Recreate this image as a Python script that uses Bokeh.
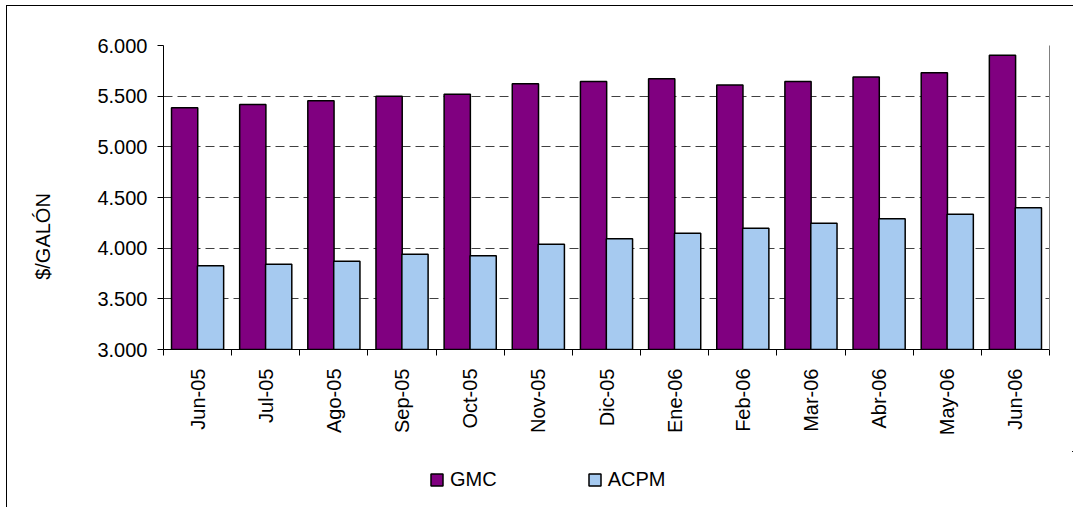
import math
from bokeh.plotting import figure
from bokeh.layouts import column, row
from bokeh.models import (Range1d, LinearAxis, FixedTicker, Label,
                          Legend, LegendItem, ColumnDataSource)
from bokeh.transform import dodge
from bokeh.core.properties import value
from bokeh.embed import file_html
from bokeh.resources import INLINE

months = ["Jun-05", "Jul-05", "Ago-05", "Sep-05", "Oct-05", "Nov-05", "Dic-05",
          "Ene-06", "Feb-06", "Mar-06", "Abr-06", "May-06", "Jun-06"]
gmc = [5385, 5418, 5455, 5500, 5520, 5622, 5645, 5671, 5609, 5645, 5688, 5730, 5905]
acpm = [3826, 3842, 3872, 3941, 3925, 4039, 4092, 4148, 4197, 4247, 4290, 4335, 4398]
y_ticks = [3000, 3500, 4000, 4500, 5000, 5500, 6000]
y_tick_labels = ["3.000", "3.500", "4.000", "4.500", "5.000", "5.500", "6.000"]
y_title = "$/GALÓN"
series_names = ["GMC", "ACPM"]
colors = ["#800080", "#A6CAF0"]

FONT = "Liberation Sans"
FS = "20px"

n = len(months)
centers = [i + 0.5 for i in range(n)]
src = ColumnDataSource(dict(x=centers, month=months, gmc=gmc, acpm=acpm))

TW = 60          # width of the title strip
MW = 1006        # main figure width
MH = 445         # main figure height


def hide_grids(fig):
    for g in fig.grid:
        g.visible = False


# ---- main chart ----
p = figure(width=MW, height=MH,
           x_range=Range1d(0, n),
           y_range=Range1d(y_ticks[0], y_ticks[-1]),
           output_backend="svg", toolbar_location=None,
           x_axis_location=None, y_axis_location="left",
           min_border_left=96, min_border_right=24,
           min_border_top=39, min_border_bottom=102,
           background_fill_color="white", border_fill_color="white")
p.outline_line_color = None

yt = FixedTicker(ticks=y_ticks)
ya = p.yaxis[0]
ya.ticker = yt
ya.major_label_overrides = dict(zip(y_ticks, y_tick_labels))
ya.major_tick_out = 6
ya.major_tick_in = 0
ya.minor_tick_out = 0
ya.minor_tick_in = 0
ya.major_label_standoff = 10
ya.major_label_text_font = FONT
ya.major_label_text_font_size = FS
ya.major_label_text_color = "black"
ya.axis_line_color = "black"
ya.major_tick_line_color = "black"

p.xgrid.visible = False
p.ygrid.ticker = yt
p.ygrid.grid_line_color = "#404040"
p.ygrid.grid_line_dash = "9 5"
p.ygrid.grid_line_width = 1

bounds = list(range(n + 1))
ta = LinearAxis(ticker=FixedTicker(ticks=bounds),
                major_label_overrides={b: "" for b in bounds},
                major_tick_out=6, major_tick_in=0, minor_tick_out=0, minor_tick_in=0,
                major_label_text_font_size="0px", major_label_standoff=0,
                axis_line_color="black", major_tick_line_color="black")
p.add_layout(ta, "below")
ca = LinearAxis(ticker=FixedTicker(ticks=centers),
                major_label_overrides=dict(zip(centers, months)),
                major_label_orientation=math.pi / 2, axis_line_color=None,
                major_tick_line_color=None, minor_tick_line_color=None,
                major_tick_out=0, major_tick_in=0,
                major_label_standoff=13, major_label_text_font=FONT,
                major_label_text_font_size=FS, major_label_text_color="black")
p.add_layout(ca, "below")

ra = LinearAxis(ticker=FixedTicker(ticks=[]), axis_line_color="#808080",
                major_tick_line_color=None, minor_tick_line_color=None,
                major_label_text_font_size="0px")
p.add_layout(ra, "right")

p.vbar(x=dodge("x", -0.19), top="gmc", bottom=y_ticks[0],
       width=0.385, source=src, fill_color=colors[0], line_color="black", line_width=1.5)
p.vbar(x=dodge("x", 0.19), top="acpm", bottom=y_ticks[0],
       width=0.385, source=src, fill_color=colors[1], line_color="black", line_width=1.5)

# ---- y title strip (its frame is aligned with the main frame) ----
tf = figure(width=TW, height=MH, x_range=Range1d(0, 1), y_range=Range1d(0, 1),
            output_backend="svg", toolbar_location=None,
            x_axis_location=None, y_axis_location=None,
            min_border=0, min_border_left=0, min_border_right=0,
            min_border_top=0, min_border_bottom=0,
            background_fill_color="white", border_fill_color="white")
tf.outline_line_color = None
hide_grids(tf)
tf.add_layout(Label(x=35.5, y=113, x_units="screen", y_units="screen", text=y_title,
                    angle=math.pi / 2, text_align="center", text_baseline="middle",
                    text_font=FONT, text_font_size=FS, text_color="black"))

# ---- legend strip ----
# its ranges lie away from the data, so only the legend swatches of these renderers show
lf = figure(width=TW + MW, height=56, x_range=Range1d(-3, -2), y_range=Range1d(-3, -2),
            output_backend="svg", toolbar_location=None,
            x_axis_location=None, y_axis_location=None,
            min_border=0, min_border_left=0, min_border_right=0,
            min_border_top=0, min_border_bottom=0,
            background_fill_color="white", border_fill_color="white")
lf.outline_line_color = None
hide_grids(lf)
l1 = lf.vbar(x="x", top="gmc", bottom=y_ticks[0], width=0.385, source=src,
             fill_color=colors[0], line_color="black", line_width=1.5)
l2 = lf.vbar(x="x", top="acpm", bottom=y_ticks[0], width=0.385, source=src,
             fill_color=colors[1], line_color="black", line_width=1.5)
legend = Legend(items=[LegendItem(label=value(series_names[0]), renderers=[l1]),
                       LegendItem(label=value(series_names[1]), renderers=[l2])],
                orientation="horizontal", location=(422, 16),
                border_line_color=None, background_fill_alpha=0, padding=0, margin=0,
                spacing=90, glyph_width=15, glyph_height=15, label_standoff=6,
                label_text_font=FONT, label_text_font_size=FS, label_text_color="black")
lf.add_layout(legend)

root = column(row(tf, p), lf)
root.styles = {"margin-left": "6px", "margin-top": "5px",
               "border-top": "1px solid black", "border-left": "1px solid black"}

open("out.html", "w").write(file_html(root, INLINE))
